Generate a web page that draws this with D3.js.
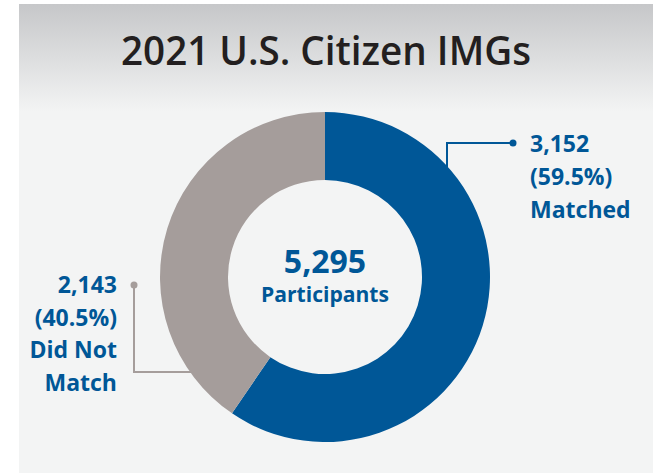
<!DOCTYPE html>
<html>
<head>
<meta charset="utf-8">
<script src="https://cdn.jsdelivr.net/npm/d3@7"></script>
<style>
  body { margin: 0; background: #fff; }
  text { font-family: "Open Sans", "Noto Sans", sans-serif; font-weight: 700; }
</style>
</head>
<body>
<div id="chart"></div>
<script>
// Data
const categories = ["Matched", "Did Not Match"];
const counts = [3152, 2143];
const percents = ["59.5%", "40.5%"];
const total = 5295;
const colors = ["#005797", "#a59d9b"];

const w = 653;
const h = 473;
const svg = d3
  .select("#chart")
  .append("svg")
  .attr("width", w)
  .attr("height", h);

// background panel with gradient
const defs = svg.append("defs");
const grad = defs
  .append("linearGradient")
  .attr("id", "bg")
  .attr("x1", 0)
  .attr("y1", 0)
  .attr("x2", 0)
  .attr("y2", 1);
grad.append("stop").attr("offset", "0%").attr("stop-color", "#c6c7c9");
grad.append("stop").attr("offset", "23%").attr("stop-color", "#f3f4f4");
grad.append("stop").attr("offset", "100%").attr("stop-color", "#f3f4f4");

svg
  .append("rect")
  .attr("x", 19)
  .attr("y", 4)
  .attr("width", w - 19)
  .attr("height", h - 4)
  .attr("fill", "url(#bg)");

// title
svg
  .append("text")
  .attr("x", 326)
  .attr("y", 65)
  .attr("text-anchor", "middle")
  .attr("fill", "#231f20")
  .style("font-size", "40px")
  .style("font-weight", "600")
  .attr("textLength", 410)
  .attr("lengthAdjust", "spacingAndGlyphs")
  .text("2021 U.S. Citizen IMGs");

// donut
const cx = 325;
const cy = 277;
const pie = d3.pie().sort(null);
const arc = d3.arc().innerRadius(97).outerRadius(165);

const g = svg.append("g").attr("transform", `translate(${cx},${cy})`);
g.selectAll("path")
  .data(pie(counts))
  .join("path")
  .attr("d", arc)
  .attr("fill", (d, i) => colors[i]);

// centre label
g.append("text")
  .attr("y", -4)
  .attr("text-anchor", "middle")
  .attr("fill", "#005797")
  .style("font-size", "32px")
  .text(d3.format(",")(total));
g.append("text")
  .attr("y", 25)
  .attr("text-anchor", "middle")
  .attr("fill", "#005797")
  .style("font-size", "21px")
  .attr("textLength", 128)
  .attr("lengthAdjust", "spacingAndGlyphs")
  .text("Participants");

// leader lines
const leaders = [
  { pts: [[447, 178], [447, 143], [513, 143]], color: "#005797" },
  { pts: [[134, 285], [134, 372], [192, 372]], color: "#a59d9b" }
];
const line = d3.line();
leaders.forEach((l, i) => {
  svg
    .append("path")
    .attr("d", line(l.pts))
    .attr("fill", "none")
    .attr("stroke", l.color)
    .attr("stroke-width", 2);
  const dot = i === 0 ? l.pts[2] : l.pts[0];
  svg
    .append("circle")
    .attr("cx", dot[0])
    .attr("cy", dot[1])
    .attr("r", 3.5)
    .attr("fill", l.color);
});

// labels
const matchedLines = [d3.format(",")(counts[0]), `(${percents[0]})`, categories[0]];
svg
  .append("g")
  .selectAll("text")
  .data(matchedLines)
  .join("text")
  .attr("x", 530)
  .attr("y", (d, i) => 152 + i * 33)
  .attr("fill", "#005797")
  .style("font-size", "23px")
  .text(d => d);

const otherLines = [d3.format(",")(counts[1]), `(${percents[1]})`, "Did Not", "Match"];
svg
  .append("g")
  .selectAll("text")
  .data(otherLines)
  .join("text")
  .attr("x", 117)
  .attr("y", (d, i) => 293 + i * 32.7)
  .attr("text-anchor", "end")
  .attr("fill", "#005797")
  .style("font-size", "23px")
  .text(d => d);
</script>
</body>
</html>
